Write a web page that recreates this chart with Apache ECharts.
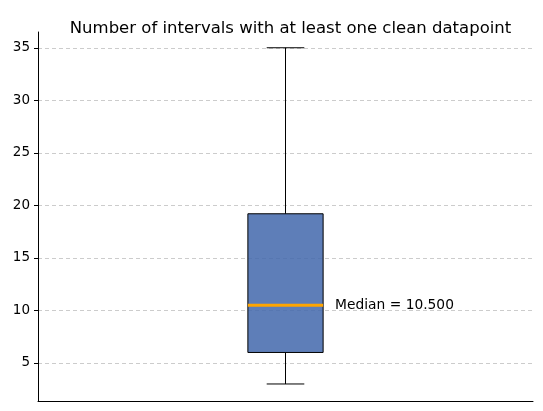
<html><head><script src="https://cdn.jsdelivr.net/npm/echarts@6/dist/echarts.min.js"></script></head><body style="margin:0"><div id="c" style="width:543px;height:411px"></div><script>
const categories=['Clean intervals'];
const stats=[[3,6,10.5,19.2,35]]; // min,q1,median,q3,max
const yTicks=[5,10,15,20,25,30,35];
const chart=echarts.init(document.getElementById('c'));
chart.setOption({
 animation:false,
 title:{text:'Number of intervals with at least one clean datapoint',left:285.5,textAlign:'center',top:7,textStyle:{fontFamily:'DejaVu Sans',fontWeight:'normal',fontSize:16.5,color:'#000'}},
 grid:{left:38,right:10,top:32,bottom:10},
 xAxis:{type:'category',data:categories,axisLabel:{show:false},axisTick:{show:false},axisLine:{lineStyle:{color:'#000'}}},
 yAxis:{type:'value',min:1.38,max:36.5,
  axisLine:{show:true,lineStyle:{color:'#000'}},
  axisTick:{show:true,customValues:yTicks,length:4,lineStyle:{color:'#000'}},
  axisLabel:{customValues:yTicks,color:'#000',fontFamily:'DejaVu Sans',fontSize:13.5},
  splitLine:{show:true,lineStyle:{type:[4,3],color:'#ccc'}}},
 series:[{type:'custom',data:stats.map((s,i)=>[i,...s]),
  renderItem:(p,api)=>{
   const i=api.value(0),mn=api.value(1),q1=api.value(2),md=api.value(3),q3=api.value(4),mx=api.value(5);
   const cx=api.coord([i,md])[0];
   const bw=api.size([1,0])[0]*0.152, cw=bw/2;
   const y=v=>api.coord([i,v])[1];
   const ls={stroke:'#000',lineWidth:1};
   return {type:'group',children:[
    {type:'line',shape:{x1:cx,y1:y(q3),x2:cx,y2:y(mx)},style:ls},
    {type:'line',shape:{x1:cx,y1:y(q1),x2:cx,y2:y(mn)},style:ls},
    {type:'line',shape:{x1:cx-cw/2,y1:y(mx),x2:cx+cw/2,y2:y(mx)},style:ls},
    {type:'line',shape:{x1:cx-cw/2,y1:y(mn),x2:cx+cw/2,y2:y(mn)},style:ls},
    {type:'rect',shape:{x:cx-bw/2,y:y(q3),width:bw,height:y(q1)-y(q3)},style:{fill:'rgba(66,103,172,0.85)',stroke:'#000',lineWidth:1}},
    {type:'line',shape:{x1:cx-bw/2,y1:y(md),x2:cx+bw/2,y2:y(md)},style:{stroke:'#ffa500',lineWidth:3}},
    {type:'text',x:cx+bw/2+12,y:y(md),style:{text:'Median = '+md.toFixed(3),fill:'#000',font:'13.8px DejaVu Sans',verticalAlign:'middle'}}
   ]};
  }}]
});
</script></body></html>
